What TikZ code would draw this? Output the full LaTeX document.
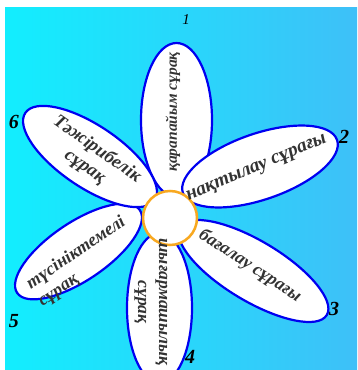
\documentclass[tikz,border=0pt]{standalone}
\usepackage{fontspec}
\setmainfont{Liberation Serif}
\usetikzlibrary{shapes.geometric, positioning}
\definecolor{skyleft}{RGB}{18,238,254}
\definecolor{skyright}{RGB}{62,192,248}
\definecolor{petalline}{RGB}{0,0,240}
\definecolor{coreline}{RGB}{248,168,32}

\begin{document}
\begin{tikzpicture}[
  x=1pt, y=1pt,
  petal/.style={ellipse, draw=petalline, line width=2.2pt, fill=white, inner sep=0pt},
  word/.style={font=\fontsize{#1}{21}\selectfont\bfseries\itshape, text=black!80, inner sep=0pt},
  word/.default=17,
  num/.style={font=\fontsize{20}{20}\selectfont\bfseries\itshape, inner sep=0pt},
]

% ---- canvas ----
\clip (0,0) rectangle (357,370);
\fill[white] (0,0) rectangle (357,370);
\shade[left color=skyleft, right color=skyright] (5,0) rectangle (357,362);

% ---- petals (long axis along the petal) ----
\node[petal, minimum width=154pt, minimum height=71pt, rotate=90]  (petal1) at (176.5,250) {};
\node[petal, minimum width=163pt, minimum height=66pt, rotate=19]  (petal2) at (260,203.5) {};
\node[petal, minimum width=171pt, minimum height=60pt, rotate=-31] (petal3) at (253.5,99) {};
\node[petal, minimum width=150pt, minimum height=65pt, rotate=-90] (petal4) at (159.5,62) {};
\node[petal, minimum width=148pt, minimum height=58pt, rotate=34]  (petal5) at (78.5,118.5) {};
\node[petal, minimum width=156pt, minimum height=62pt, rotate=-34] (petal6) at (90,213.5) {};

% ---- centre ----
\node[circle, draw=coreline, line width=2.5pt, fill=white, minimum size=54pt, inner sep=0pt] (core) at (170,152) {};

% ---- petal texts ----
\node[word=15.5, rotate=90]  (t1) at (173,258) {қарапайым сұрақ};
\node[word=19.5, rotate=23]  (t2) at (257,201) {нақтылау сұрағы};
\node[word=18, rotate=-33]   (t3) at (250,104) {бағалау сұрағы};
\node[word=17.5, rotate=-90, align=center] (t4) at (151,68) {шығармашылық\\сұрақ};
\node[word=18, rotate=34, align=left]      (t5) at (82,108) {түсініктемелі\\сұрақ};
\node[word=18.5, rotate=-35, align=center] (t6) at (91,212) {Тәжірибелік\\сұрақ};

% ---- numbers ----
\node[num, font=\fontsize{15}{16}\selectfont\itshape] (n1) at (186,350) {1};
\node[num] (n2) at (344,233) {2};
\node[num] (n3) at (334,61)  {3};
\node[num] (n4) at (190,13)  {4};
\node[num] (n5) at (14,49)   {5};
\node[num] (n6) at (14,248)  {6};

\end{tikzpicture}
\end{document}
